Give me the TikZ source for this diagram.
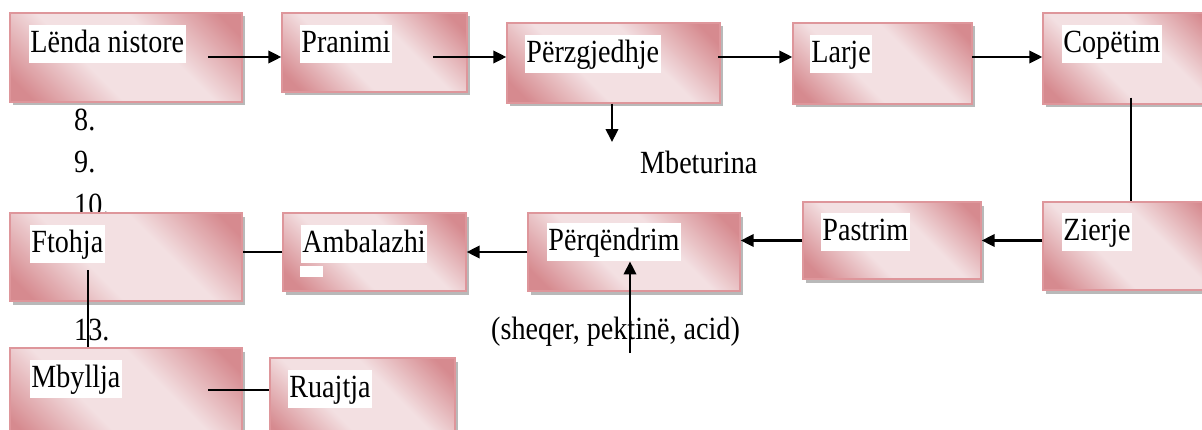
\documentclass[tikz,border=0pt]{standalone}
\usepackage{fontspec}
\setmainfont{Liberation Serif}
\usetikzlibrary{arrows.meta,shadows,fit}

\definecolor{kutierret}{RGB}{214,138,143}
\definecolor{kutiecelet}{RGB}{243,224,226}
\definecolor{kutivija}{RGB}{222,150,155}
\pgfdeclarehorizontalshading{kutihije}{100bp}{color(0bp)=(kutierret); color(20bp)=(kutierret); color(40bp)=(kutiecelet); color(60bp)=(kutiecelet); color(80bp)=(kutierret); color(100bp)=(kutierret)}
\newcommand{\shtrij}[1]{\scalebox{1}[1.15]{#1}}

\tikzset{
	kuti/.style={draw=kutivija, line width=0.8pt, shading=kutihije, shading angle=45, inner sep=0pt,
		drop shadow={shadow xshift=0.06cm, shadow yshift=-0.07cm, fill=black!50, opacity=0.55}},
	etiketa/.style={fill=white, anchor=north west, inner xsep=1pt, inner ysep=2.2pt, text height=13.5pt, text depth=4pt},
	shigjete/.style={line width=1.2pt, -{Triangle[length=0.26cm, width=0.25cm]}},
	vije/.style={line width=1.2pt}
}

\begin{document}
\begin{tikzpicture}[x=0.02cm, y=-0.02cm, font=\fontsize{16}{19}\selectfont]
	\useasboundingbox (0,0) rectangle (1202,429);
	% numrat
	\node[anchor=west] (n8) at (68,120) {\shtrij{8.}};
	\node[anchor=west] (n9) at (68,162) {\shtrij{9.}};
	\node[anchor=west] (n10) at (68,205) {\shtrij{10.}};
	\node[anchor=west] (n13) at (68,330) {\shtrij{13.}};

	% rreshti i pare
	\node[kuti, fit={(10,13) (242,102)}] (lenda) {};
	\node[etiketa] (lendaT) at ([xshift=0.38cm, yshift=-0.24cm]lenda.north west) {\shtrij{Lënda nistore}};
	\node[kuti, fit={(282,13) (467,92)}] (pranimi) {};
	\node[etiketa] (pranimiT) at ([xshift=0.36cm, yshift=-0.24cm]pranimi.north west) {\shtrij{Pranimi}};
	\node[kuti, fit={(507,23) (720,103)}] (perzgjedhje) {};
	\node[etiketa] (perzgjedhjeT) at ([xshift=0.36cm, yshift=-0.24cm]perzgjedhje.north west) {\shtrij{Përzgjedhje}};
	\node[kuti, fit={(793,23) (972,104)}] (larje) {};
	\node[etiketa] (larjeT) at ([xshift=0.34cm, yshift=-0.24cm]larje.north west) {\shtrij{Larje}};
	\node[kuti, fit={(1043,13) (1219,104)}] (copetim) {};
	\node[etiketa] (copetimT) at ([xshift=0.38cm, yshift=-0.24cm]copetim.north west) {\shtrij{Copëtim}};

	% rreshti i dyte
	\node[kuti, fit={(1043,202) (1219,290)}] (zierje) {};
	\node[etiketa] (zierjeT) at ([xshift=0.38cm, yshift=-0.22cm]zierje.north west) {\shtrij{Zierje}};
	\node[kuti, fit={(803,202) (981,279)}] (pastrim) {};
	\node[etiketa] (pastrimT) at ([xshift=0.36cm, yshift=-0.22cm]pastrim.north west) {\shtrij{Pastrim}};
	\node[kuti, fit={(528,213) (740,291)}] (perqendrim) {};
	\node[etiketa] (perqendrimT) at ([xshift=0.38cm, yshift=-0.2cm]perqendrim.north west) {\shtrij{Përqëndrim}};
	\node[kuti, fit={(283,213) (466,291)}] (ambalazhi) {};
	\node[etiketa] (ambalazhiT) at ([xshift=0.36cm, yshift=-0.24cm]ambalazhi.north west) {\shtrij{Ambalazhi}};
	\fill[white] (300,266) rectangle (323,277);
	\node[kuti, fit={(10,213) (242,301)}] (ftohja) {};
	\node[etiketa] (ftohjaT) at ([xshift=0.4cm, yshift=-0.24cm]ftohja.north west) {\shtrij{Ftohja}};

	% rreshti i trete
	\node[kuti, fit={(10,348) (242,445)}] (mbyllja) {};
	\node[etiketa] (mbylljaT) at ([xshift=0.4cm, yshift=-0.24cm]mbyllja.north west) {\shtrij{Mbyllja}};
	\node[kuti, fit={(270,358) (455,445)}] (ruajtja) {};
	\node[etiketa] (ruajtjaT) at ([xshift=0.36cm, yshift=-0.24cm]ruajtja.north west) {\shtrij{Ruajtja}};

	% tekstet jashte
	\node[anchor=west] (mbeturina) at (634,162) {\shtrij{Mbeturina}};
	\node[anchor=west] (shtesa) at (485,332) {\shtrij{(sheqer, pektinë, acid)}};

	% shigjetat
	\coordinate (a1) at (208,57);
	\coordinate (a2) at (433,57);
	\coordinate (a3) at (718,57);
	\coordinate (a4) at (972,57);
	\draw[shigjete] (a1) -- (a1 -| pranimi.west);
	\draw[shigjete] (a2) -- (a2 -| perzgjedhje.west);
	\draw[shigjete] (a3) -- (a3 -| larje.west);
	\draw[shigjete] (a4) -- (a4 -| copetim.west);
	\coordinate (mb) at (612,142);
	\draw[shigjete] (perzgjedhje.south -| mb) -- (mb);
	\draw[vije] ([yshift=0.14cm]copetim.south) -- (zierje.north);
	\draw[shigjete] (zierje.west |- pastrim.east) -- (pastrim.east);
	\draw[shigjete] (pastrim.west) -- (pastrim.west -| perqendrim.east);
	\draw[shigjete] (perqendrim.west) -- (ambalazhi.east);
	\draw[vije] (ambalazhi.west) -- (ambalazhi.west -| ftohja.east);
	\coordinate (s1) at (630,353);
	\draw[shigjete] (s1) -- (s1 |- perqendrimT.south);
	\coordinate (f1) at (88,270);
	\draw[vije] (f1) -- (f1 |- mbyllja.north);
	\coordinate (m1) at (208,390);
	\draw[vije] (m1) -- (m1 -| ruajtja.west);
\end{tikzpicture}
\end{document}
